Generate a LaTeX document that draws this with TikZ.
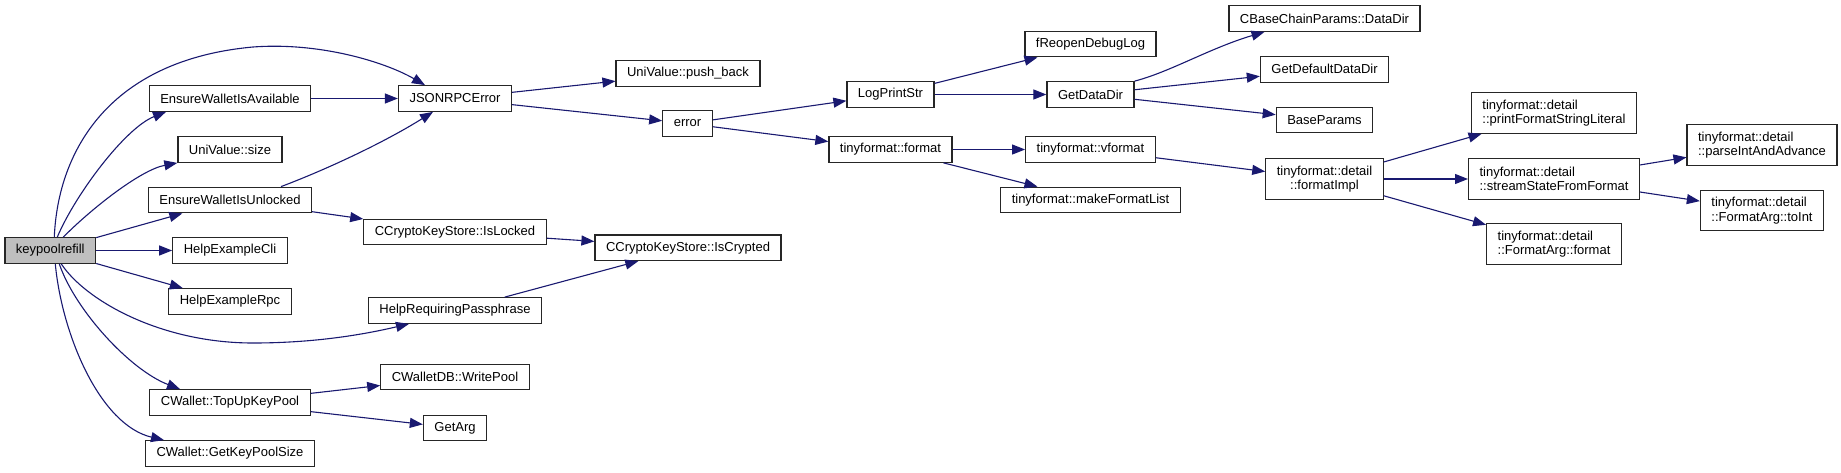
\documentclass[tikz,border=0pt]{standalone}
\usepackage{fontspec}
\setmainfont{Liberation Sans}
\usepackage{xcolor}
\usepackage{tikz}
\usetikzlibrary{arrows.meta}
\definecolor{midnight}{HTML}{191970}

\begin{document}
\begin{tikzpicture}[x=1pt, y=-1pt, font=\fontsize{13}{14.5}\selectfont,
        fn/.style={draw=black!85, rectangle, fill=white, line width=1.2pt, minimum height=25.6pt, inner xsep=11pt, inner ysep=2pt},
        fntwo/.style={fn, align=left, minimum height=40.5pt},
        call/.style={draw=midnight, line width=1.1pt, -{Triangle[length=13pt, width=10pt]}}]
        \useasboundingbox (0,0) rectangle (1841,472);

        \node[fn, fill=black!25] (refill) at (50.3,250.5) {keypoolrefill};
        \node[fn] (avail) at (230,98.5) {EnsureWalletIsAvailable};
        \node[fn] (size) at (230,149.5) {UniValue::size};
        \node[fn] (unlocked) at (230,200) {EnsureWalletIsUnlocked};
        \node[fn] (clihelp) at (230,250.5) {HelpExampleCli};
        \node[fn] (rpchelp) at (230,301.5) {HelpExampleRpc};
        \node[fn] (topup) at (230,402.5) {CWallet::TopUpKeyPool};
        \node[fn] (poolsize) at (230,453.5) {CWallet::GetKeyPoolSize};
        \node[fn] (jsonerr) at (455,98.5) {JSONRPCError};
        \node[fn] (islocked) at (455,232) {CCryptoKeyStore::IsLocked};
        \node[fn] (passhelp) at (455,310.5) {HelpRequiringPassphrase};
        \node[fn] (writepool) at (455,377) {CWalletDB::WritePool};
        \node[fn] (getarg) at (455,428) {GetArg};
        \node[fn] (pushback) at (688,73.3) {UniValue::push\_back};
        \node[fn] (error) at (687.5,123.5) {error};
        \node[fn] (iscrypted) at (688,247.7) {CCryptoKeyStore::IsCrypted};
        \node[fn] (logprint) at (890.5,94.5) {LogPrintStr};
        \node[fn] (tfformat) at (890.5,149.5) {tinyformat::format};
        \node[fn] (reopen) at (1090.5,44) {fReopenDebugLog};
        \node[fn] (datadir) at (1090.5,94.5) {GetDataDir};
        \node[fn] (vformat) at (1090.5,149.5) {tinyformat::vformat};
        \node[fn] (mklist) at (1090.5,200) {tinyformat::makeFormatList};
        \node[fn] (chaindir) at (1324.5,18.5) {CBaseChainParams::DataDir};
        \node[fn] (defdir) at (1324.5,69.3) {GetDefaultDataDir};
        \node[fn] (baseparams) at (1324.5,120) {BaseParams};
        \node[fntwo, align=center] (fmtimpl) at (1324.5,179) {tinyformat::detail\\::formatImpl};
        \node[fntwo] (printlit) at (1554,113) {tinyformat::detail\\::printFormatStringLiteral};
        \node[fntwo] (streamstate) at (1554,179) {tinyformat::detail\\::streamStateFromFormat};
        \node[fntwo] (argformat) at (1554,244) {tinyformat::detail\\::FormatArg::format};
        \node[fntwo] (parseint) at (1762,145) {tinyformat::detail\\::parseIntAndAdvance};
        \node[fntwo] (toint) at (1762,210.5) {tinyformat::detail\\::FormatArg::toInt};

        \draw[call] ([xshift=4]refill.north) .. controls (58,150) and (110,60) .. (253,47) .. controls (320,42) and (385,62) .. ([xshift=-30]jsonerr.north);
        \draw[call] ([xshift=7]refill.north) .. controls (75,195) and (125,128) .. ([xshift=-64]avail.south);
        \draw[call] ([xshift=13]refill.north) .. controls (90,210) and (140,170) .. (size.south west);
        \draw[call] (refill) -- (unlocked);
        \draw[call] (refill) -- (clihelp);
        \draw[call] (refill) -- (rpchelp);
        \draw[call] ([xshift=11]refill.south) .. controls (85,300) and (160,343) .. (253,343) .. controls (320,343) and (370,333) .. ([xshift=-46]passhelp.south);
        \draw[call] ([xshift=9]refill.south) .. controls (75,310) and (130,370) .. ([xshift=-50]topup.north);
        \draw[call] ([xshift=5]refill.south) .. controls (62,335) and (100,425) .. ([xshift=-66]poolsize.north);
        \draw[call] (avail) -- (jsonerr);
        \draw[call] ([xshift=51]unlocked.north) .. controls (320,172) and (380,145) .. ([xshift=-22]jsonerr.south);
        \draw[call] (unlocked) -- (islocked);
        \draw[call] (topup) -- (writepool);
        \draw[call] (topup) -- (getarg);
        \draw[call] (jsonerr) -- (pushback);
        \draw[call] (jsonerr) -- (error);
        \draw[call] (islocked) -- (iscrypted);
        \draw[call] (passhelp) -- (iscrypted);
        \draw[call] (error) -- (logprint);
        \draw[call] (error) -- (tfformat);
        \draw[call] (logprint) -- (reopen);
        \draw[call] (logprint) -- (datadir);
        \draw[call] (datadir.north east) .. controls (1170,72) and (1210,48) .. ([xshift=-60]chaindir.south);
        \draw[call] (datadir) -- (defdir);
        \draw[call] (datadir) -- (baseparams);
        \draw[call] (tfformat) -- (vformat);
        \draw[call] (tfformat) -- (mklist);
        \draw[call] (vformat) -- (fmtimpl);
        \draw[call] (fmtimpl) -- (printlit);
        \draw[call] (fmtimpl) -- (streamstate);
        \draw[call] (fmtimpl) -- (argformat);
        \draw[call] (streamstate) -- (parseint);
        \draw[call] (streamstate) -- (toint);
    \end{tikzpicture}
\end{document}
